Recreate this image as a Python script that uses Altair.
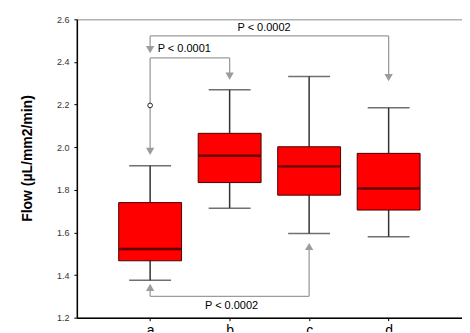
import altair as alt
import pandas as pd

# ---- data ----
groups = ["a", "b", "c", "d"]
positions = [1, 2, 3, 4]
whisker_low = [1.376, 1.714, 1.595, 1.580]
q1 = [1.467, 1.834, 1.775, 1.705]
median = [1.522, 1.960, 1.910, 1.806]
q3 = [1.740, 2.065, 2.002, 1.971]
whisker_high = [1.913, 2.269, 2.332, 2.185]
outlier_group = [1]
outlier_value = [2.196]

# significance brackets (x in group positions, y in flow units)
seg_x = [1, 1, 4, 1, 1, 2, 1, 1, 3]
seg_x2 = [4, 1, 4, 2, 1, 2, 3, 1, 3]
seg_y = [2.522, 2.522, 2.522, 2.419, 2.419, 2.419, 1.300, 1.300, 1.300]
seg_y2 = [2.522, 2.470, 2.340, 2.419, 1.995, 2.345, 1.300, 1.330, 1.520]
arrow_down_x = [1, 4, 1, 2]
arrow_down_y = [2.458, 2.326, 1.980, 2.333]
arrow_up_x = [1, 3]
arrow_up_y = [1.342, 1.534]
label_text = ["P < 0.0002", "P < 0.0001", "P < 0.0002"]
label_x = [2.433, 1.095, 2.024]
label_y = [2.558, 2.460, 1.256]
label_align = ["center", "left", "center"]

box = pd.DataFrame({"g": groups, "pos": positions, "lo": whisker_low, "q1": q1,
                    "med": median, "q3": q3, "hi": whisker_high})
out = pd.DataFrame({"pos": outlier_group, "v": outlier_value})
seg = pd.DataFrame({"x": seg_x, "x2": seg_x2, "y": seg_y, "y2": seg_y2})
adown = pd.DataFrame({"x": arrow_down_x, "y": arrow_down_y})
aup = pd.DataFrame({"x": arrow_up_x, "y": arrow_up_y})
labs = pd.DataFrame({"t": label_text, "x": label_x, "y": label_y, "al": label_align})

xs = alt.Scale(domain=[0.141, 4.86], nice=False, zero=False)
ys = alt.Scale(domain=[1.2, 2.6], nice=False, zero=False)
FONT = "Liberation Sans"
GRAY = "#9c9c9c"

xaxis = alt.Axis(values=[1, 2, 3, 4], labelExpr="['', 'a', 'b', 'c', 'd'][datum.value]",
                 title=None, grid=False, domainColor="black", domainWidth=1.5,
                 tickColor="black", tickSize=3, labelFontSize=14, labelColor="black",
                 labelPadding=3, labelFont=FONT)
yaxis = alt.Axis(values=[1.2, 1.4, 1.6, 1.8, 2.0, 2.2, 2.4, 2.6], format=".1f",
                 title="Flow (µL/mm2/min)", grid=False, domainColor="black",
                 domainWidth=1.5, tickColor="black", tickSize=3, labelFontSize=9,
                 labelColor="#333333", labelPadding=5, labelFont=FONT,
                 titleFont=FONT, titleFontSize=14, titleFontWeight="bold",
                 titleColor="black", titleX=-49, titleY=139, titleBaseline="middle")

base = alt.Chart(box)

whisk = base.mark_rule(color="#333333", strokeWidth=1.5).encode(
    x=alt.X("pos:Q", scale=xs, axis=xaxis),
    y=alt.Y("lo:Q", scale=ys, axis=yaxis),
    y2="hi:Q",
)
cap_lo = base.mark_tick(color="#333333", thickness=1.5, size=42, orient="horizontal").encode(
    x=alt.X("pos:Q", scale=xs), y=alt.Y("lo:Q", scale=ys))
cap_hi = base.mark_tick(color="#333333", thickness=1.5, size=42, orient="horizontal").encode(
    x=alt.X("pos:Q", scale=xs), y=alt.Y("hi:Q", scale=ys))
boxes = base.mark_bar(color="#ff0000", stroke="#4a0000", strokeWidth=1, size=63).encode(
    x=alt.X("pos:Q", scale=xs), y=alt.Y("q1:Q", scale=ys), y2="q3:Q")
med = base.mark_tick(color="#200000", thickness=2.5, size=62, orient="horizontal").encode(
    x=alt.X("pos:Q", scale=xs), y=alt.Y("med:Q", scale=ys))

segs = alt.Chart(seg).mark_rule(color=GRAY, strokeWidth=1.3).encode(
    x=alt.X("x:Q", scale=xs), x2="x2:Q", y=alt.Y("y:Q", scale=ys), y2="y2:Q")
outl = alt.Chart(out).mark_point(shape="circle", size=22, color="#222222", filled=False,
                                 strokeWidth=1, fill="white", fillOpacity=1).encode(
    x=alt.X("pos:Q", scale=xs), y=alt.Y("v:Q", scale=ys))
down = alt.Chart(adown).mark_point(shape="triangle-down", size=70, filled=True,
                                   color=GRAY, opacity=1).encode(
    x=alt.X("x:Q", scale=xs), y=alt.Y("y:Q", scale=ys))
up = alt.Chart(aup).mark_point(shape="triangle-up", size=70, filled=True,
                               color=GRAY, opacity=1).encode(
    x=alt.X("x:Q", scale=xs), y=alt.Y("y:Q", scale=ys))
txt_c = alt.Chart(labs).transform_filter("datum.al == 'center'").mark_text(
    font=FONT, fontSize=11, color="black", align="center", baseline="middle").encode(
    x=alt.X("x:Q", scale=xs), y=alt.Y("y:Q", scale=ys), text="t:N")
txt_l = alt.Chart(labs).transform_filter("datum.al == 'left'").mark_text(
    font=FONT, fontSize=11, color="black", align="left", baseline="middle").encode(
    x=alt.X("x:Q", scale=xs), y=alt.Y("y:Q", scale=ys), text="t:N")

chart = alt.layer(whisk, cap_lo, cap_hi, boxes, med, segs, outl, down, up, txt_c, txt_l).properties(
    width=386, height=299,
    autosize=alt.AutoSizeParams(type="none"),
    padding={"left": 69, "top": 11, "right": 0, "bottom": 14},
    background="white",
).configure_view(stroke="#8a8a8a", strokeWidth=1)

chart.save("out.html", embed_options={"renderer": "svg", "actions": False})
